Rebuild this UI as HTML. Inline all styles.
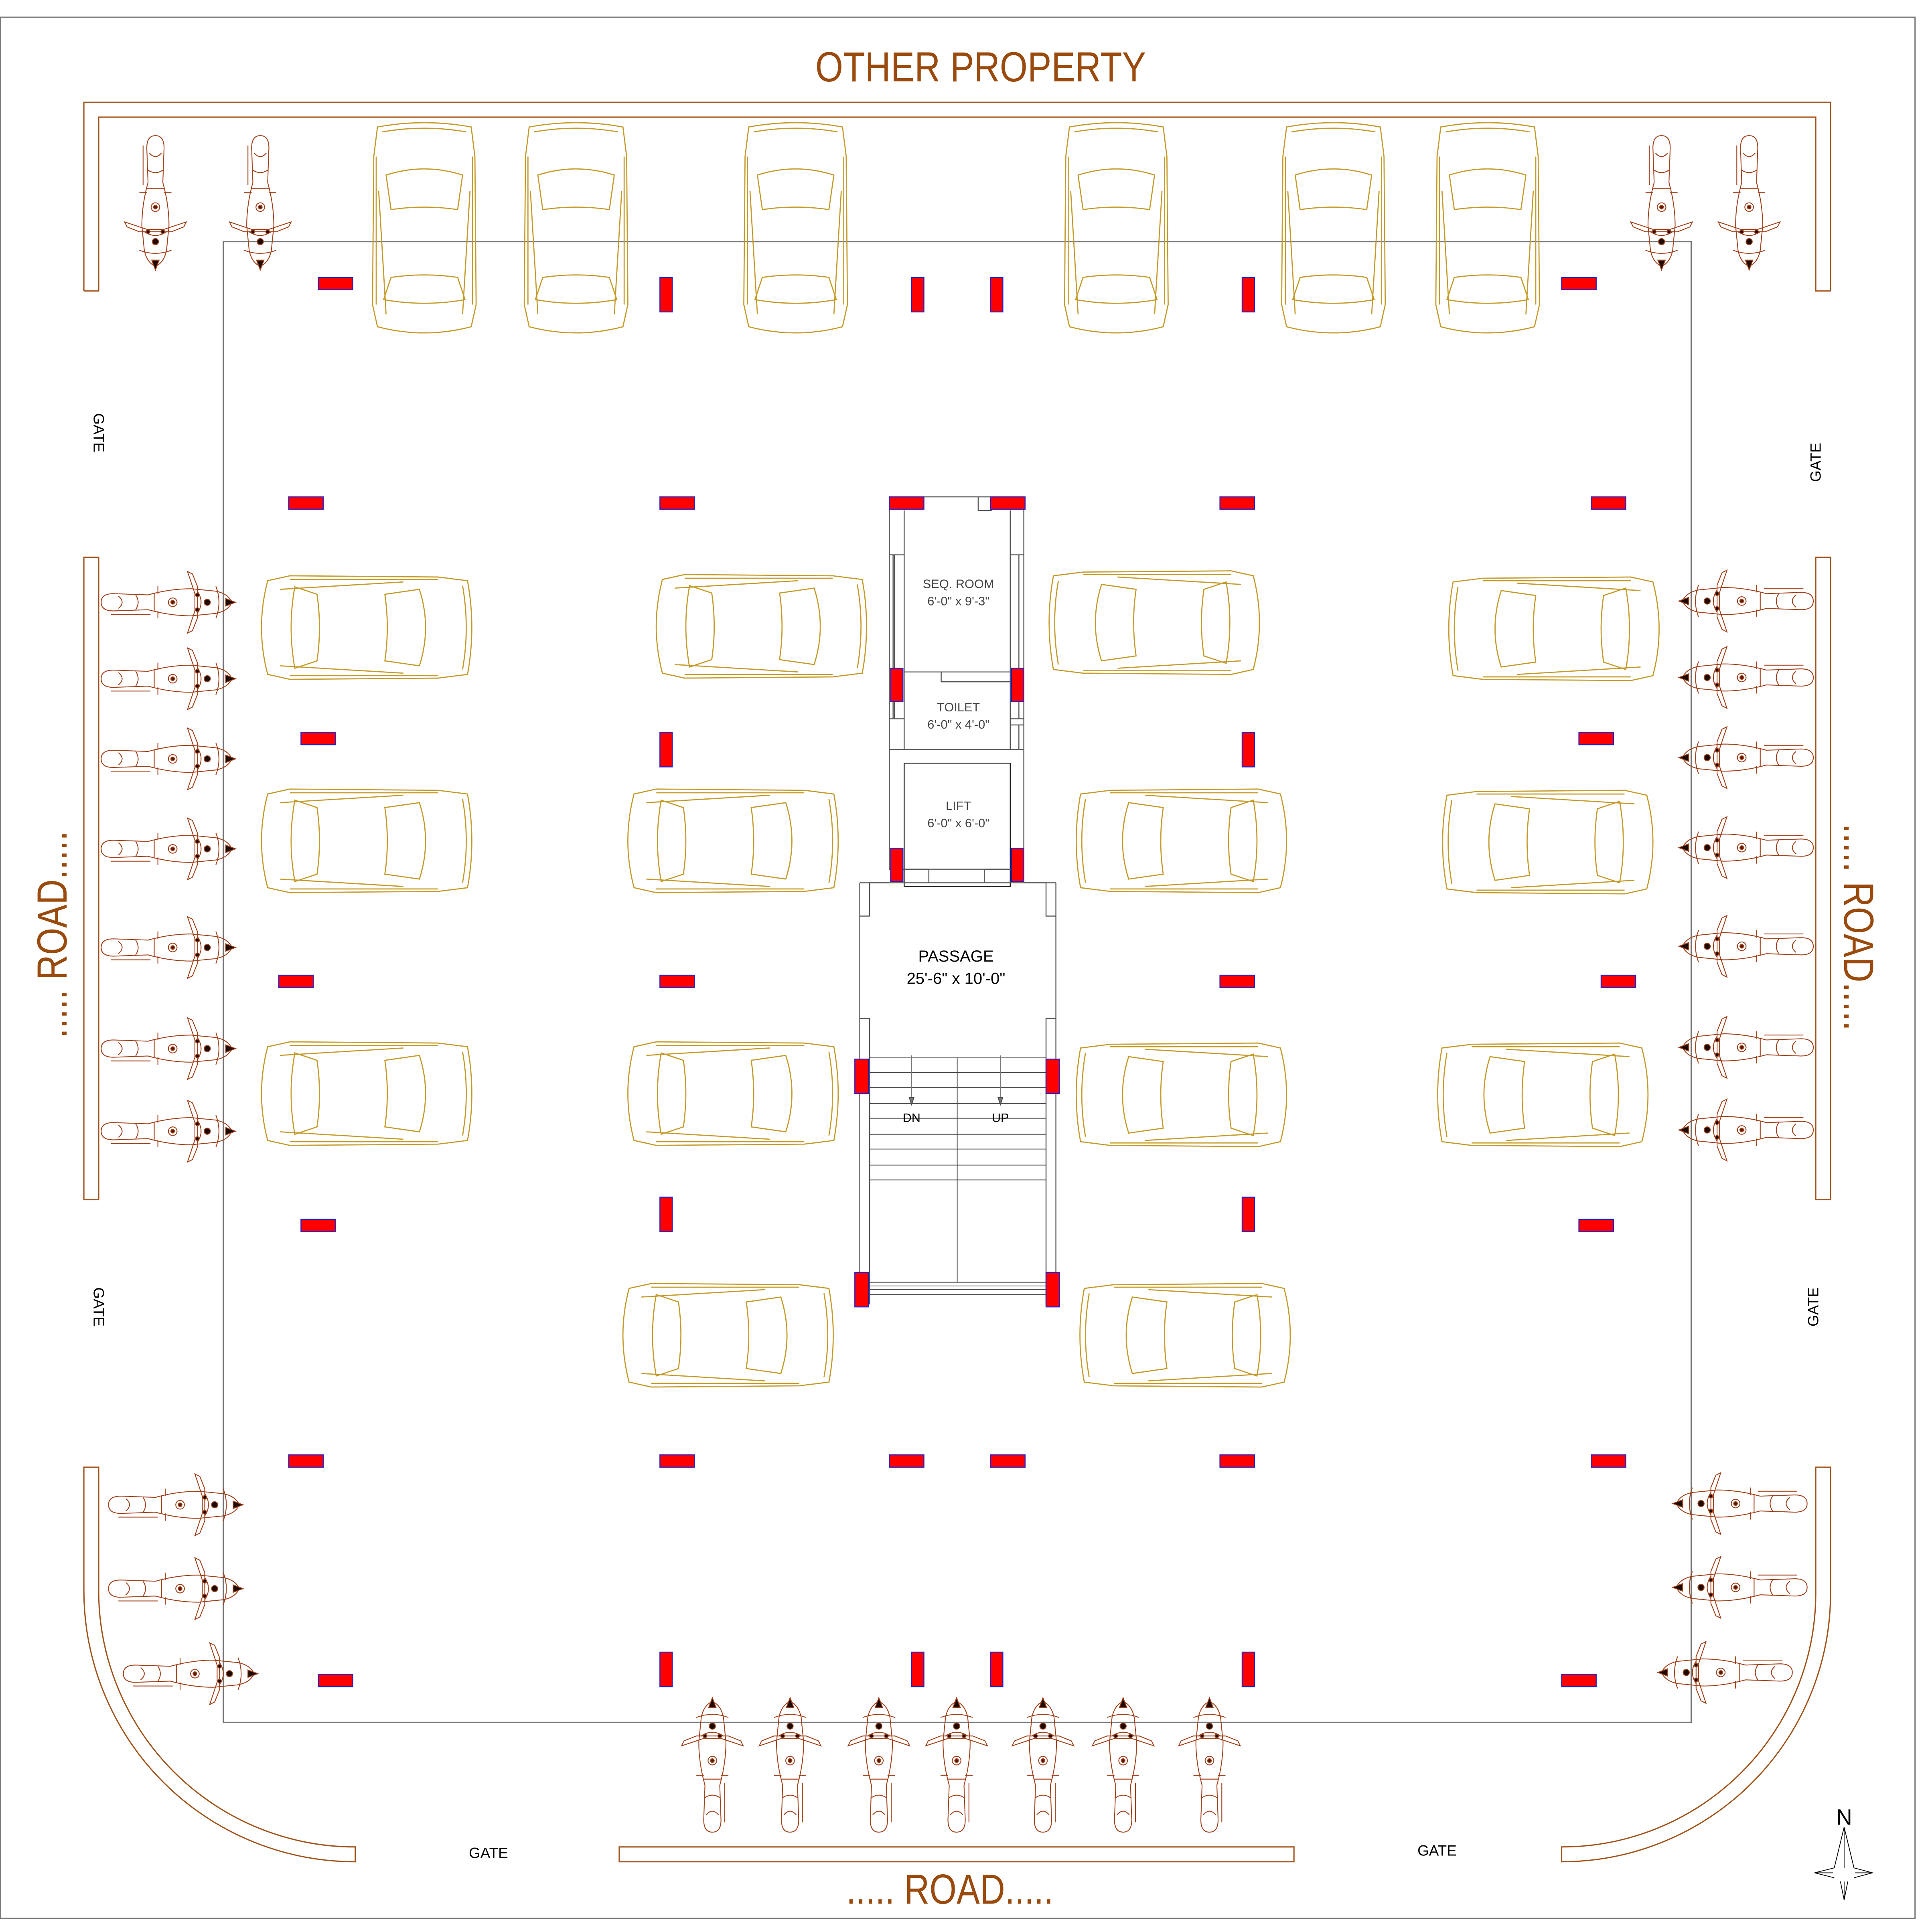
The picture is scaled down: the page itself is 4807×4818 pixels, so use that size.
<!DOCTYPE html>
<html><head><meta charset="utf-8"><style>
html,body{margin:0;padding:0;background:#fff;}
svg{display:block;}
</style></head><body>
<svg xmlns="http://www.w3.org/2000/svg" xmlns:xlink="http://www.w3.org/1999/xlink" width="4807" height="4818" viewBox="0 0 1563 1567" preserveAspectRatio="none">
<defs>
<g id="carV" fill="none" stroke="#c49a28" stroke-width="0.9">
<path d="M4,6 Q42,-1 80,6 L83,30 L84,150 L80,168 Q42,178 4,168 L0,150 L1,30 Z"/>
<path d="M8,10 Q42,4 76,10"/>
<path d="M11,45 Q42,35 73,45 L69,73 Q42,69 15,73 Z"/>
<path d="M15,128 Q42,124 69,128 L75,146 Q42,152 9,146 Z"/>
<path d="M5,58 L11,158 M79,58 L73,158"/>
<path d="M3,30 L3,150 M81,30 L81,150"/>
</g>
<g id="bike" fill="none" stroke="#a0401a" stroke-width="0.7">
<path d="M27,2 Q34,2 34,12 L33,40 Q38,58 38,75 L36,95 Q34,105 27,108 Q20,105 18,95 L16,75 Q16,58 21,40 L20,12 Q20,2 27,2Z"/>
<path d="M22,16 Q27,22 32,16 M20,45 L34,45 M21,30 Q27,34 33,30 M18,80 Q27,86 36,80 M14,95 Q27,100 40,95"/>
<path d="M17,10 L17,42 M14,48 L20,48 M34,48 L40,48"/>
<circle cx="27" cy="60" r="3.5"/>
<path d="M2,72 L14,76 L20,78 L34,78 L40,76 L52,72 L50,76 L40,80 L14,80 L4,76 Z"/>
<circle cx="27" cy="60" r="1.5" fill="#5a1a00"/>
<circle cx="27" cy="88" r="2.5" fill="#1a0a00"/>
<circle cx="21" cy="80" r="1.5" fill="#1a0a00"/>
<circle cx="33" cy="80" r="1.5" fill="#1a0a00"/>
<path d="M24,103 L30,103 L27,111 Z" fill="#1a0a00"/>
</g>
</defs>

<!-- outer frame -->
<rect x="0.5" y="14" width="1552" height="1542" fill="none" stroke="#777" stroke-width="1"/>

<text x="795" y="66" font-family="Liberation Sans, sans-serif" font-size="34" fill="#9a4a0c" text-anchor="middle" textLength="268" lengthAdjust="spacingAndGlyphs">OTHER PROPERTY</text>

<!-- compound wall -->
<g fill="none" stroke="#a0521a" stroke-width="1">
<path d="M68,236 L68,83 L1484,83 L1484,236"/>
<path d="M68,236 L80,236 L80,95 L1472,95 L1472,236 L1484,236"/>
<path d="M68,452 L80,452 L80,973 L68,973 Z"/>
<path d="M1472,452 L1484,452 L1484,973 L1472,973 Z"/>
<path d="M68,1190 L68,1290 A220,220 0 0 0 288,1510 L288,1498 A208,208 0 0 1 80,1290 L80,1190 Z"/>
<path d="M1484,1190 L1484,1290 A218,218 0 0 1 1266,1510 L1266,1498 A206,206 0 0 0 1472,1290 L1472,1190 Z"/>
<path d="M502,1510 L502,1498 L1049,1498 L1049,1510 Z"/>
</g>

<!-- building -->
<rect x="181" y="196" width="1190" height="1201" fill="none" stroke="#777" stroke-width="1"/>

<!-- core -->
<g fill="none" stroke="#555" stroke-width="0.8">
<rect x="721" y="403" width="109" height="205"/>
<path d="M733,414 L733,608 M819,414 L819,608"/>
<path d="M733,545 L819,545 M763,545 L763,553 L819,553"/>
<path d="M721,450 L733,450 M721,583 L733,583 M819,450 L830,450 M819,583 L830,583 M819,588 L830,588 M826,588 L826,608 M725,450 L725,583 M724,450 L724,583"/>
<path d="M826,450 L826,583"/>
<path d="M793,403 L793,414 L804,414"/>
<rect x="721" y="608" width="109" height="97"/>
<rect x="733" y="619" width="86" height="100" stroke="#222"/>
<path d="M697,716 L697,1060 M856,716 L856,1060"/>
<path d="M697,716 L721,716 M753,716 L753,705 M721,705 L753,705 M798,705 L830,705 M798,705 L798,716 M830,716 L856,716"/>
<path d="M705,716 L848,716 M705,716 L705,743 L697,743 M848,716 L848,743 L856,743 M697,826 L705,826 L705,1058 M856,826 L848,826 L848,1058"/>
</g>
<g stroke="#444" stroke-width="0.6">
<path d="M705,858 L848,858 M705,870 L848,870 M705,882 L848,882 M705,895 L848,895 M705,907 L848,907 M705,920 L848,920 M705,932 L848,932 M705,945 L848,945 M705,957 L848,957 M705,1040 L848,1040 M705,1043 L848,1043 M705,1046 L848,1046 M705,1050 L848,1050"/>
<path d="M776,858 L776,1040"/>
<path d="M739,856 L739,893 M811,856 L811,893" stroke="#777"/>
<path d="M737,890 L741,890 L739,896 Z M809,890 L813,890 L811,896 Z" fill="#777"/>
</g>
<g font-family="Liberation Sans, sans-serif" text-anchor="middle">
<text x="777" y="477" font-size="10" fill="#444">SEQ. ROOM</text>
<text x="777" y="491" font-size="10" fill="#444">6'-0" x 9'-3"</text>
<text x="777" y="577" font-size="10" fill="#444">TOILET</text>
<text x="777" y="591" font-size="10" fill="#444">6'-0" x 4'-0"</text>
<text x="777" y="657" font-size="10" fill="#444">LIFT</text>
<text x="777" y="671" font-size="10" fill="#444">6'-0" x 6'-0"</text>
<text x="775" y="780" font-size="13" fill="#000">PASSAGE</text>
<text x="775" y="798" font-size="13" fill="#000">25'-6" x 10'-0"</text>
<text x="739" y="910" font-size="10" fill="#000">DN</text>
<text x="811" y="910" font-size="10" fill="#000">UP</text>
</g>

<!-- red columns -->
<g fill="#ff0000" stroke="#2020cc" stroke-width="0.8">
<rect x="258" y="225" width="28" height="10"/><rect x="1266" y="225" width="28" height="10"/>
<rect x="535" y="225" width="10" height="28"/><rect x="739" y="225" width="10" height="28"/><rect x="803" y="225" width="10" height="28"/><rect x="1007" y="225" width="10" height="28"/>
<rect x="234" y="403" width="28" height="10"/><rect x="535" y="403" width="28" height="10"/><rect x="721" y="403" width="28" height="10"/><rect x="803" y="403" width="28" height="10"/><rect x="989" y="403" width="28" height="10"/><rect x="1290" y="403" width="28" height="10"/>
<rect x="244" y="594" width="28" height="10"/><rect x="535" y="594" width="10" height="28"/><rect x="1007" y="594" width="10" height="28"/><rect x="1280" y="594" width="28" height="10"/>
<rect x="226" y="791" width="28" height="10"/><rect x="535" y="791" width="28" height="10"/><rect x="989" y="791" width="28" height="10"/><rect x="1298" y="791" width="28" height="10"/>
<rect x="244" y="989" width="28" height="10"/><rect x="535" y="971" width="10" height="28"/><rect x="1007" y="971" width="10" height="28"/><rect x="1280" y="989" width="28" height="10"/>
<rect x="234" y="1180" width="28" height="10"/><rect x="535" y="1180" width="28" height="10"/><rect x="721" y="1180" width="28" height="10"/><rect x="803" y="1180" width="28" height="10"/><rect x="989" y="1180" width="28" height="10"/><rect x="1290" y="1180" width="28" height="10"/>
<rect x="258" y="1358" width="28" height="10"/><rect x="1266" y="1358" width="28" height="10"/>
<rect x="535" y="1340" width="10" height="28"/><rect x="739" y="1340" width="10" height="28"/><rect x="803" y="1340" width="10" height="28"/><rect x="1007" y="1340" width="10" height="28"/>
<rect x="722" y="542" width="10" height="27"/><rect x="820" y="542" width="10" height="27"/>
<rect x="722" y="688" width="10" height="27"/><rect x="820" y="688" width="10" height="27"/>
<rect x="693" y="859" width="11" height="28"/><rect x="848" y="859" width="11" height="28"/>
<rect x="693" y="1032" width="11" height="28"/><rect x="848" y="1032" width="11" height="28"/>
</g>

<!-- top cars -->
<use xlink:href="#carV" transform="translate(302,97)"/>
<use xlink:href="#carV" transform="translate(425,97)"/>
<use xlink:href="#carV" transform="translate(603,97)"/>
<use xlink:href="#carV" transform="translate(863,97)"/>
<use xlink:href="#carV" transform="translate(1039,97)"/>
<use xlink:href="#carV" transform="translate(1164,97)"/>
<!-- horizontal cars -->
<use xlink:href="#carV" transform="translate(385,467) rotate(90)"/>
<use xlink:href="#carV" transform="translate(385,640) rotate(90)"/>
<use xlink:href="#carV" transform="translate(385,845) rotate(90)"/>
<use xlink:href="#carV" transform="translate(705,466) rotate(90)"/>
<use xlink:href="#carV" transform="translate(682,640) rotate(90)"/>
<use xlink:href="#carV" transform="translate(682,845) rotate(90)"/>
<use xlink:href="#carV" transform="translate(678,1041) rotate(90)"/>
<use xlink:href="#carV" transform="translate(848,547) rotate(-90)"/>
<use xlink:href="#carV" transform="translate(870,724) rotate(-90)"/>
<use xlink:href="#carV" transform="translate(870,930) rotate(-90)"/>
<use xlink:href="#carV" transform="translate(873,1125) rotate(-90)"/>
<use xlink:href="#carV" transform="translate(1172,552) rotate(-90)"/>
<use xlink:href="#carV" transform="translate(1167,725) rotate(-90)"/>
<use xlink:href="#carV" transform="translate(1163,930) rotate(-90)"/>

<!-- bikes top -->
<use xlink:href="#bike" transform="translate(99,108)"/>
<use xlink:href="#bike" transform="translate(184,108)"/>
<use xlink:href="#bike" transform="translate(1320,108)"/>
<use xlink:href="#bike" transform="translate(1391,108)"/>
<!-- left side bikes -->
<use xlink:href="#bike" transform="translate(80,515.5) rotate(-90)"/>
<use xlink:href="#bike" transform="translate(80,577.5) rotate(-90)"/>
<use xlink:href="#bike" transform="translate(80,642.5) rotate(-90)"/>
<use xlink:href="#bike" transform="translate(80,715.5) rotate(-90)"/>
<use xlink:href="#bike" transform="translate(80,795.5) rotate(-90)"/>
<use xlink:href="#bike" transform="translate(80,877.5) rotate(-90)"/>
<use xlink:href="#bike" transform="translate(80,944.5) rotate(-90)"/>
<use xlink:href="#bike" transform="translate(86,1247.5) rotate(-90)"/>
<use xlink:href="#bike" transform="translate(86,1315.5) rotate(-90)"/>
<use xlink:href="#bike" transform="translate(98,1384.5) rotate(-90)"/>
<!-- right side bikes -->
<use xlink:href="#bike" transform="translate(1472,460.5) rotate(90)"/>
<use xlink:href="#bike" transform="translate(1472,522.5) rotate(90)"/>
<use xlink:href="#bike" transform="translate(1472,587.5) rotate(90)"/>
<use xlink:href="#bike" transform="translate(1472,660.5) rotate(90)"/>
<use xlink:href="#bike" transform="translate(1472,740.5) rotate(90)"/>
<use xlink:href="#bike" transform="translate(1472,822.5) rotate(90)"/>
<use xlink:href="#bike" transform="translate(1472,889.5) rotate(90)"/>
<use xlink:href="#bike" transform="translate(1467,1192.5) rotate(90)"/>
<use xlink:href="#bike" transform="translate(1467,1260.5) rotate(90)"/>
<use xlink:href="#bike" transform="translate(1455,1329.5) rotate(90)"/>
<!-- bottom bikes -->
<use xlink:href="#bike" transform="translate(604.5,1488) rotate(180)"/>
<use xlink:href="#bike" transform="translate(667.5,1488) rotate(180)"/>
<use xlink:href="#bike" transform="translate(739.5,1488) rotate(180)"/>
<use xlink:href="#bike" transform="translate(802.5,1488) rotate(180)"/>
<use xlink:href="#bike" transform="translate(872.5,1488) rotate(180)"/>
<use xlink:href="#bike" transform="translate(937.5,1488) rotate(180)"/>
<use xlink:href="#bike" transform="translate(1007.5,1488) rotate(180)"/>

<!-- labels -->
<g font-family="Liberation Sans, sans-serif" fill="#000" font-size="12" text-anchor="middle">
<text transform="translate(76,351) rotate(90)">GATE</text>
<text transform="translate(76,1060) rotate(90)">GATE</text>
<text transform="translate(1476,375) rotate(-90)">GATE</text>
<text transform="translate(1474,1060) rotate(-90)">GATE</text>
<text x="396" y="1507">GATE</text>
<text x="1165" y="1505">GATE</text>
</g>
<g font-family="Liberation Sans, sans-serif" fill="#9a4a0c" font-size="34" text-anchor="middle">
<text transform="translate(54,758) rotate(-90)" textLength="168" lengthAdjust="spacingAndGlyphs">..... ROAD.....</text>
<text transform="translate(1495,752) rotate(90)" textLength="168" lengthAdjust="spacingAndGlyphs">..... ROAD.....</text>
<text x="770" y="1544" textLength="168" lengthAdjust="spacingAndGlyphs">..... ROAD.....</text>
</g>

<!-- north arrow -->
<text x="1495" y="1480" font-family="Liberation Sans, sans-serif" font-size="18" text-anchor="middle">N</text>
<g fill="none" stroke="#000" stroke-width="0.6">
<path d="M1495,1482 L1487,1515 L1471,1519 L1487,1523 M1495,1482 L1503,1515 L1518,1519 L1503,1523 M1495,1482 L1495,1515 M1471,1519 L1486,1519 M1504,1519 L1518,1519 M1492,1526 L1495,1541 L1498,1526 M1495,1526 L1495,1541"/>
</g>
</svg>
</body></html>
